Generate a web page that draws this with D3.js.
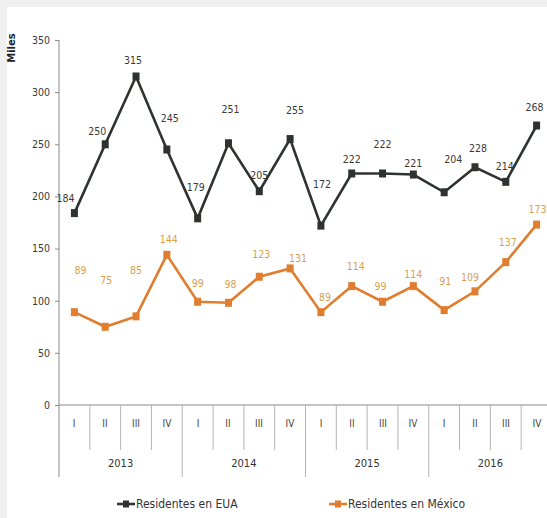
<!DOCTYPE html>
<html lang="es">
	<head>
		<meta charset="utf-8">
		<title>Residentes en EUA y en México</title>
		<script type="text/javascript" src="https://cdn.jsdelivr.net/npm/d3@7"></script>
		<style type="text/css">
			body { margin: 0; background: #f0f0f0; }
			svg { display: block; }
			text { font-family: "Liberation Sans Narrow", "DejaVu Sans Condensed", "Arial Narrow", sans-serif; }
		</style>
	</head>
	<body>
		<script type="text/javascript">

			//Data
			var years = ["2013", "2014", "2015", "2016"];
			var quarters = ["I", "II", "III", "IV"];
			var residentesEUA = [184, 250, 315, 245, 179, 251, 205, 255, 172, 222, 222, 221, 204, 228, 214, 268];
			var residentesMexico = [89, 75, 85, 144, 99, 98, 123, 131, 89, 114, 99, 114, 91, 109, 137, 173];
			var yTicks = [0, 50, 100, 150, 200, 250, 300, 350];

			//Label nudges (dx, dy) for the value labels, as placed in the original
			var eauLabelNudge = [[-9,-15],[-8,-13],[-3,-17],[3,-32],[-2,-31],[2,-34],[0,-16],[5,-29],
								 [1,-42],[0,-14],[0,-29],[0,-12],[9,-33],[3,-19],[-1,-16],[-2,-19]];
			var mexLabelNudge = [[6,-42],[1,-47],[0,-46],[2,-16],[0,-19],[2,-19],[2,-23],[8,-10],
								 [4,-15],[4,-20],[-2,-16],[0,-12],[1,-29],[-5,-14],[2,-20],[1,-16]];

			//Width and height
			var w = 547;
			var h = 518;
			var colEUA = "#2f332f";
			var colMex = "#e07d2e";
			var colMexText = "#d9a04e";

			var cats = [];
			years.forEach(function(y) {
				quarters.forEach(function(q) { cats.push(y + "-" + q); });
			});

			var xScale = d3.scaleBand()
							.domain(cats)
							.range([59, 552]);

			var yScale = d3.scaleLinear()
							.domain([0, 350])
							.range([405, 40]);

			var svg = d3.select("body")
						.append("svg")
						.attr("width", w)
						.attr("height", h);

			//white panel
			svg.append("rect")
			   .attr("x", 7)
			   .attr("y", 7)
			   .attr("width", w - 7)
			   .attr("height", h - 7)
			   .attr("fill", "#ffffff");

			//y axis
			var yAxis = d3.axisLeft(yScale)
						  .tickValues(yTicks)
						  .tickSize(4)
						  .tickPadding(5);
			var gy = svg.append("g")
						.attr("transform", "translate(59,0)")
						.call(yAxis);
			gy.select(".domain").remove();
			gy.selectAll("line").attr("stroke", "#8a8a8a");
			gy.selectAll("text")
			  .attr("font-size", "10.5px")
			  .attr("fill", "#3a3a3a")
			  .style("font-family", "'Liberation Sans Narrow', 'DejaVu Sans Condensed', sans-serif");
			svg.append("line")
			   .attr("x1", 59).attr("x2", 59)
			   .attr("y1", yScale(350)).attr("y2", 477)
			   .attr("stroke", "#8a8a8a");

			svg.append("text")
			   .attr("transform", "translate(15,48) rotate(-90)")
			   .attr("text-anchor", "middle")
			   .attr("font-size", "10px")
			   .attr("font-weight", "bold")
			   .attr("fill", "#222")
			   .style("font-family", "'DejaVu Sans', sans-serif")
			   .text("Miles");

			//x axis line
			svg.append("line")
			   .attr("x1", 59).attr("x2", w)
			   .attr("y1", yScale(0)).attr("y2", yScale(0))
			   .attr("stroke", "#8a8a8a");

			//quarter separators and labels
			svg.selectAll("line.sep")
			   .data(cats)
			   .enter()
			   .append("line")
			   .attr("class", "sep")
			   .attr("x1", function(d) { return xScale(d) + xScale.bandwidth(); })
			   .attr("x2", function(d) { return xScale(d) + xScale.bandwidth(); })
			   .attr("y1", yScale(0))
			   .attr("y2", function(d, i) { return (i % 4 === 3) ? 477 : 450; })
			   .attr("stroke", "#b5b5b5");

			svg.selectAll("text.q")
			   .data(cats)
			   .enter()
			   .append("text")
			   .attr("class", "q")
			   .attr("text-anchor", "middle")
			   .attr("x", function(d) { return Math.round(xScale(d) + xScale.bandwidth() / 2); })
			   .attr("y", 427)
			   .attr("font-size", "10px")
			   .attr("fill", "#444")
			   .text(function(d) { return d.split("-")[1]; });

			svg.selectAll("text.yr")
			   .data(years)
			   .enter()
			   .append("text")
			   .attr("class", "yr")
			   .attr("text-anchor", "middle")
			   .attr("x", function(d) {
			   		return (xScale(d + "-I") + xScale(d + "-IV") + xScale.bandwidth()) / 2;
			   })
			   .attr("y", 467)
			   .attr("font-size", "11px")
			   .attr("fill", "#333")
			   .text(function(d) { return d; });

			//series
			function drawSeries(values, color, textColor, nudges) {
				var line = d3.line()
							 .x(function(d, i) { return xScale(cats[i]) + xScale.bandwidth() / 2; })
							 .y(function(d) { return yScale(d); });
				var g = svg.append("g");
				g.append("path")
				 .datum(values)
				 .attr("d", line)
				 .attr("fill", "none")
				 .attr("stroke", color)
				 .attr("stroke-width", 2.6)
				 .attr("stroke-linejoin", "miter");
				g.selectAll("rect")
				 .data(values)
				 .enter()
				 .append("rect")
				 .attr("x", function(d, i) { return xScale(cats[i]) + xScale.bandwidth() / 2 - 3.5; })
				 .attr("y", function(d) { return yScale(d) - 4; })
				 .attr("width", 7)
				 .attr("height", 8)
				 .attr("fill", color);
				g.selectAll("text")
				 .data(values)
				 .enter()
				 .append("text")
				 .attr("text-anchor", "middle")
				 .attr("dominant-baseline", "central")
				 .attr("x", function(d, i) { return xScale(cats[i]) + xScale.bandwidth() / 2 + nudges[i][0]; })
				 .attr("y", function(d, i) { return yScale(d) + nudges[i][1]; })
				 .attr("font-size", "10.5px")
				 .attr("fill", textColor)
				 .text(function(d) { return d; });
			}

			drawSeries(residentesEUA, colEUA, "#3a3a3a", eauLabelNudge);
			drawSeries(residentesMexico, colMex, colMexText, mexLabelNudge);

			//legend
			var legend = [
				{ name: "Residentes en EUA", color: colEUA, x: 117 },
				{ name: "Residentes en México", color: colMex, x: 329 }
			];
			var lg = svg.selectAll("g.legend")
						.data(legend)
						.enter()
						.append("g")
						.attr("class", "legend")
						.attr("transform", function(d) { return "translate(" + d.x + ",504)"; });
			lg.append("line")
			  .attr("x1", 0).attr("x2", 18)
			  .attr("y1", 0).attr("y2", 0)
			  .attr("stroke", function(d) { return d.color; })
			  .attr("stroke-width", 2.6);
			lg.append("rect")
			  .attr("x", 6).attr("y", -3.5)
			  .attr("width", 6).attr("height", 7)
			  .attr("fill", function(d) { return d.color; });
			lg.append("text")
			  .attr("x", 19)
			  .attr("dominant-baseline", "central")
			  .attr("font-size", "12px")
			  .attr("fill", "#333")
			  .text(function(d) { return d.name; });

		</script>
	</body>
</html>
